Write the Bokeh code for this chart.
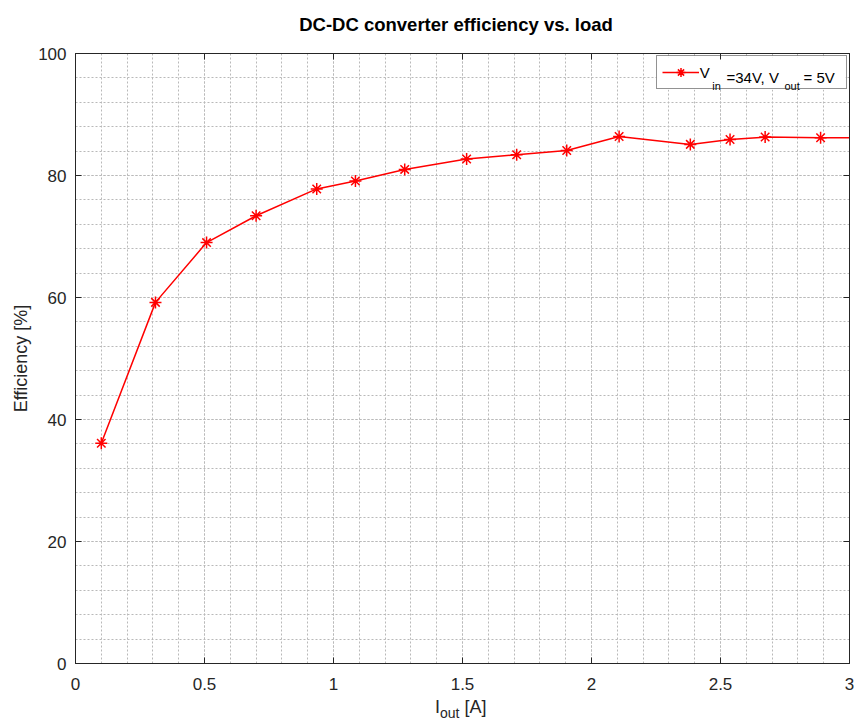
from bokeh.plotting import figure
from bokeh.models import (Range1d, SingleIntervalTicker, LinearAxis, Label, Legend,
                          LegendItem, CustomJSTickFormatter, BoxAnnotation, Div)
from bokeh.layouts import column
from bokeh.embed import file_html
from bokeh.resources import INLINE

# ---- data ----
iout = [0.10, 0.31, 0.508, 0.70, 0.935, 1.085, 1.276, 1.516, 1.71, 1.904,
        2.107, 2.383, 2.537, 2.673, 2.888, 3.10]
efficiency = [36.1, 59.2, 69.0, 73.4, 77.8, 79.1, 81.0, 82.7, 83.4, 84.1,
              86.4, 85.1, 85.9, 86.3, 86.2, 86.2]

x_tick_values = [0, 0.5, 1, 1.5, 2, 2.5, 3]
x_tick_labels = ["0", "0.5", "1", "1.5", "2", "2.5", "3"]
y_tick_values = [0, 20, 40, 60, 80, 100]
y_tick_labels = ["0", "20", "40", "60", "80", "100"]

title_text = "DC-DC converter efficiency vs. load"
ylabel_text = "Efficiency [%]"
legend_parts = ["V", "in", "=34V, V", "out", "= 5V"]
xlabel_parts = ["I", "out", "[A]"]

FONT = "Liberation Sans"
AX = "#262626"
GRID = "#b9b9b9"
RED = "#ff0000"

TITLE_H = 35
XLAB_H = 22
FIG_H = 720 - TITLE_H - XLAB_H
FRAME_TOP, FRAME_BOTTOM = 53, 663

# ---- title (above the figure) ----
title_html = (
    '<div style="position:relative;width:854px;height:%dpx;overflow:hidden;'
    "font-family:'Liberation Sans';color:#000000;line-height:1;\">"
    '<span style="position:absolute;left:58px;width:796px;top:16px;text-align:center;'
    'font-size:18.5px;font-weight:bold;white-space:nowrap;">%s</span></div>'
) % (TITLE_H, title_text)
title_div = Div(text=title_html, width=854, height=TITLE_H, margin=(0, 0, 0, 0))

p = figure(width=854, height=FIG_H, x_range=Range1d(0, 3), y_range=Range1d(0, 100),
           output_backend="svg", toolbar_location=None, title=None,
           min_border_left=75, min_border_right=5,
           min_border_top=FRAME_TOP - TITLE_H,
           min_border_bottom=TITLE_H + FIG_H - FRAME_BOTTOM)
p.background_fill_color = "white"
p.border_fill_color = "white"
p.outline_line_color = AX
p.outline_line_width = 1

xt = SingleIntervalTicker(interval=0.5, num_minor_ticks=5)
yt = SingleIntervalTicker(interval=20, num_minor_ticks=5)
p.xaxis.ticker = xt
p.yaxis.ticker = yt
p.xaxis.major_label_overrides = {v: l for v, l in zip(x_tick_values, x_tick_labels)}
p.yaxis.major_label_overrides = {v: l for v, l in zip(y_tick_values, y_tick_labels)}

for ax in [p.xaxis[0], p.yaxis[0]]:
    ax.axis_line_color = AX
    ax.axis_line_width = 1
    ax.major_tick_line_color = AX
    ax.major_tick_in = 6
    ax.major_tick_out = 0
    ax.minor_tick_in = 0
    ax.minor_tick_out = 0
    ax.minor_tick_line_color = None
    ax.major_label_text_font = FONT
    ax.major_label_text_font_size = "17px"
    ax.major_label_text_color = AX
p.xaxis.major_label_standoff = 14
p.yaxis.major_label_standoff = 9
p.yaxis.axis_label = ylabel_text
p.yaxis.axis_label_text_font = FONT
p.yaxis.axis_label_text_font_size = "18px"
p.yaxis.axis_label_text_font_style = "normal"
p.yaxis.axis_label_text_color = AX
p.yaxis.axis_label_standoff = 4

empty = CustomJSTickFormatter(code="return ''")
top_ax = LinearAxis(ticker=xt, formatter=empty, major_tick_in=6, major_tick_out=0,
                    minor_tick_in=0, minor_tick_out=0, minor_tick_line_color=None,
                    major_label_standoff=0, major_label_text_font_size="1px",
                    axis_line_color=AX, major_tick_line_color=AX)
right_ax = LinearAxis(ticker=yt, formatter=empty, major_tick_in=6, major_tick_out=0,
                      minor_tick_in=0, minor_tick_out=0, minor_tick_line_color=None,
                      major_label_standoff=0, major_label_text_font_size="1px",
                      axis_line_color=AX, major_tick_line_color=AX)
p.add_layout(top_ax, "above")
p.add_layout(right_ax, "right")

for g in [p.xgrid[0], p.ygrid[0]]:
    g.grid_line_color = GRID
    g.grid_line_dash = "2 2"
    g.grid_line_width = 1
    g.minor_grid_line_color = GRID
    g.minor_grid_line_dash = "2 2"
    g.minor_grid_line_width = 1

# white backing of the legend box (hides the grid), drawn under the data
LEG_L, LEG_R, LEG_B, LEG_T = 580.7, 770.0, 573.7, 606.3
p.add_layout(BoxAnnotation(left=LEG_L, right=LEG_R, bottom=LEG_B, top=LEG_T,
                           left_units="screen", right_units="screen",
                           bottom_units="screen", top_units="screen",
                           fill_color="white", fill_alpha=1, line_color=None,
                           level="underlay"))

r_line = p.line(iout, efficiency, line_color=RED, line_width=1.5)
r_pts = p.scatter(iout, efficiency, marker="asterisk", size=12, line_color=RED, line_width=1.5)

legend = Legend(items=[LegendItem(label=legend_parts[0], renderers=[r_line, r_pts])],
                location=(LEG_L, LEG_B), margin=0, padding=5, spacing=0,
                glyph_width=37, glyph_height=22, label_height=22, label_width=141,
                label_standoff=1, label_text_font=FONT, label_text_font_size="15px",
                label_text_color="#000000", border_line_color=AX, border_line_width=1,
                background_fill_alpha=0)
p.add_layout(legend)

def add_text(txt, x, y, size, color="#000000"):
    p.add_layout(Label(x=x, y=y, x_units="screen", y_units="screen", text=txt,
                       text_font=FONT, text_font_size=size, text_color=color,
                       text_baseline="alphabetic", text_align="left", level="overlay"))

# legend pieces with subscripts
add_text(legend_parts[1], 636.7, 578, "11px")
add_text(legend_parts[2], 651, 586.3, "15px")
add_text(legend_parts[3], 709, 578, "11px")
add_text(legend_parts[4], 728, 586.3, "15px")

# x-axis label with subscript, below the figure
xlabel_html = (
    '<div style="position:relative;width:854px;height:%dpx;overflow:hidden;'
    "font-family:'Liberation Sans';color:%s;line-height:1;\">"
    '<span style="position:absolute;left:435px;top:0px;font-size:18px;white-space:nowrap;">'
    '%s<span style="font-size:14px;position:relative;top:5px;">%s</span> %s</span></div>'
) % (XLAB_H, AX, xlabel_parts[0], xlabel_parts[1], xlabel_parts[2])
xlabel_div = Div(text=xlabel_html, width=854, height=XLAB_H, margin=(0, 0, 0, 0))

layout = column(title_div, p, xlabel_div, spacing=0, margin=(0, 0, 0, 0))
open("out.html", "w").write(file_html(layout, INLINE))
